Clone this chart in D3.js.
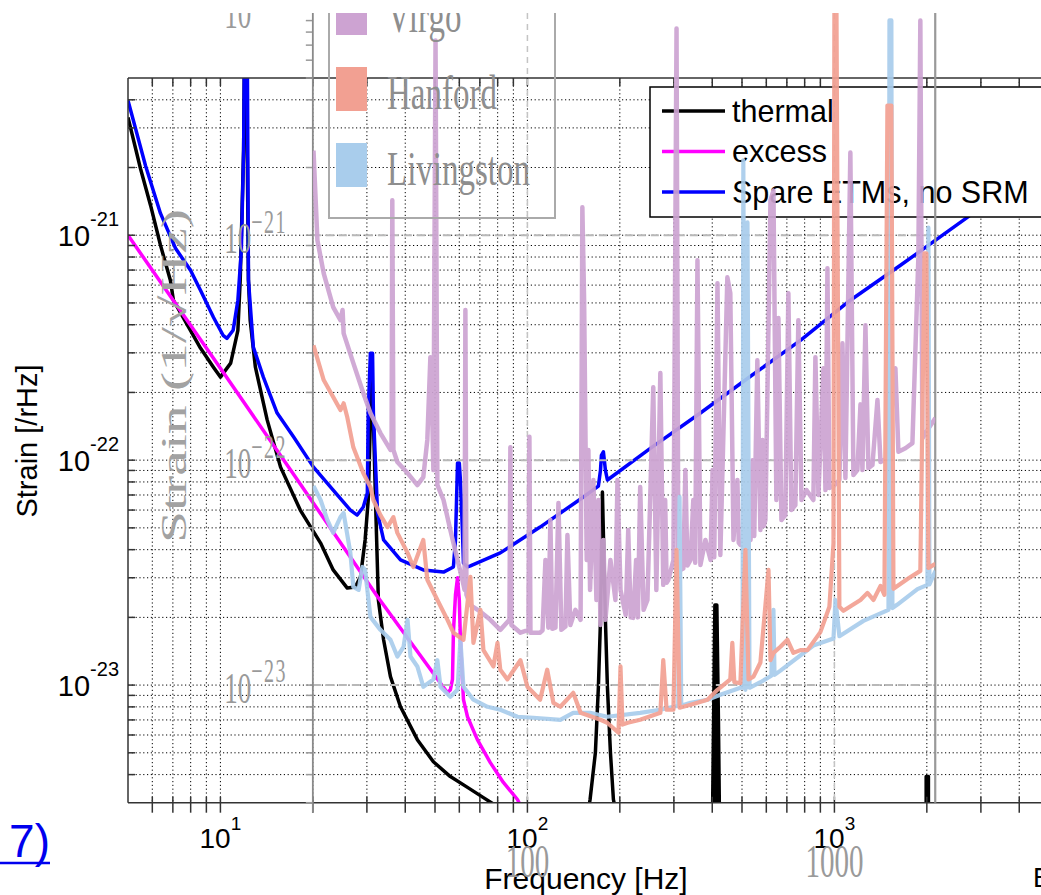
<!DOCTYPE html>
<html><head><meta charset="utf-8">
<script src="https://cdn.jsdelivr.net/npm/d3@7"></script>
<style>body{margin:0;background:#fff;} svg{display:block;}</style>
</head><body><svg id="c" width="1041" height="895"></svg>
<script>
// ---------- DATA (frequency in Hz, strain in units of 1e-23 /rHz) ----------
const UNIT = 1e-23;
const freqDomain = [5, 5000];
const strainDomain = [3e-24, 5e-21];
const freqMajor = [10, 100, 1000];
const freqMajorExp = ["1", "2", "3"];
const strainMajor = [1e-23, 1e-22, 1e-21];
const strainMajorExp = ["-23", "-22", "-21"];
const legendLabels = ["thermal", "excess", "Spare ETMs, no SRM"];
const legendColors = ["#000000", "#ff00ff", "#0000ff"];

const thermal = [[5.00,334],[5.49,198],[5.92,136],[6.38,90.2],[6.87,63.1],[7.03,51.4],[7.81,39.8],[8.61,31.5],[9.49,25.9],[10.0,23.4],[10.8,27.0],[11.4,37.8],[11.6,63.1],[11.9,238],[11.97,600],[12.15,600],[12.34,63.1],[12.5,41.9],[13.0,25.9],[14.2,15.1],[15.7,9.31],[18.2,6.00],[21.2,4.28],[23.3,3.25],[25.9,2.70],[27.5,2.73],[28.6,3.03],[29.6,4.42],[30.3,6.65],[30.8,15.1],[31.0,26.4],[31.5,15.1],[32.0,6.65],[32.7,2.39],[34.0,1.59],[35.8,1.09],[38.6,0.801],[43.8,0.572],[49.4,0.456],[56.1,0.392],[63.8,0.351],[71.9,0.316],[78.7,0.292],
 null,
 [158,0.28],[160,0.31],[166.5,0.501],[170.3,0.983],[173,1.95],[175.5,7.21],[179.5,1.95],[182.2,0.983],[186.4,0.501],[190.6,0.31],[193.5,0.28],
 null,
 [401,0.28],[404,0.70],[408,2.27],[414,2.27],[411,0.28],[414,2.27],[419,0.70],[422,0.28],
 null,
 [1990,0.28],[1990,0.392],[2024,0.392],[2024,0.28]];

const excess = [[5.00,100],[10.0,25.6],[18.2,7.83],[32.5,2.47],[54.9,0.924],[56.1,0.953],[57.0,1.06],[57.4,1.71],[58.3,2.52],[59.2,3.0],[60.0,2.39],[60.5,1.59],[61.9,0.861],[63.8,0.723],[68.7,0.572],[75.7,0.452],[83.5,0.369],[92.8,0.31],[96.3,0.28]];

const spare = [[5.00,397],[5.70,204],[6.38,125],[7.14,87.5],[7.99,69.8],[8.61,56.9],[9.49,43.2],[10.2,35.9],[10.5,34.8],[11.0,37.8],[11.4,51.4],[11.7,85.7],[11.9,238],[11.97,600],[12.24,600],[12.34,63.1],[12.8,31.8],[13.8,23.4],[15.3,16.2],[17.3,12.7],[20.1,9.31],[23.3,7.36],[26.5,6.00],[27.9,5.70],[29.2,6.19],[30.1,7.14],[30.3,16.2],[30.8,29.9],[31.3,29.9],[31.5,16.2],[32.5,5.82],[34.0,4.42],[38.6,3.60],[45.8,3.25],[53.3,3.18],[57.4,3.35],[58.3,4.42],[59.2,9.71],[60.0,9.71],[60.5,8.16],[61.4,4.89],[61.9,3.49],[63.8,3.35],[65.2,3.39],[81.6,3.87],[110,5.04],[149,6.72],[170.3,7.67],[173,9.03],[174.2,10.5],[176.8,10.9],[179.5,9.03],[182.2,8.16],[252,11.3],[366,16.2],[533,23.6],[775,34.1],[1127,51.4],[1641,73.5],[2710,120],[4980,220]];

// background figure (observing run sensitivities)
const bgFreqDomain = [20, 2130];
const bgFreqLabels = [100, 1000];
const bgStrainLabels = [1e-20, 1e-21, 1e-22, 1e-23];
const bgStrainExp = ["\u221220", "\u221221", "\u221222", "\u221223"];
const bgLegend = ["Virgo", "Hanford", "Livingston"];
const bgColors = ["#cda3d2", "#f2a092", "#a9cdec"];

const virgo = [[20.1,238],[20.7,94.9],[21.7,67.7],[23.3,47.9],[24.6,41.9],[25.0,46.5],[25.2,36.6],[27.1,27.0],[29.2,19.9],[30.8,16.2],[33.2,13.2],[35.8,11.1],[36.1,11.4],[36.3,143],[36.6,11.1],[37.7,9.81],[40.7,8.76],[43.8,7.75],[45.8,8.41],[47.2,12.3],[48.3,28.7],[49.0,15.1],[49.4,9.03],[50.2,734],[50.9,7.75],[53.3,6.65],[56.1,4.89],[59.2,3.60],[61.4,2.94],[62.4,2.65],[62.8,46.5],[63.3,2.52],[65.2,2.27],[70.3,2.12],[75.7,1.95],[81.6,1.76],[87.4,1.95],[88.0,11.4],[88.7,1.85],[94.9,1.71],[100.8,1.76],[101.5,12.7],[102.3,1.71],[110,1.71],[112,1.75],[114.5,3.60],[117,1.80],[118.8,5.42],[120.5,1.78],[123.4,1.80],[126.2,6.45],[129,1.76],[133,1.82],[135,4.65],[138,1.85],[143.3,2.16],[149,1.95],[151,133],[153,51.4],[156,3.60],[158,11.1],[160,2.65],[164,8.16],[167.8,2.39],[170.3,6.65],[173,1.85],[176.8,4.42],[179.5,1.95],[186.4,3.60],[193.5,2.39],[196.5,8.16],[201,2.65],[209,2.05],[213,4.89],[217,2.0],[221,1.99],[226,3.60],[229,2.0],[233,7.59],[239,2.16],[246,2.39],[257,21.1],[263,2.65],[271,24.4],[277,2.79],[281,6.65],[284,2.85],[288,2.94],[299,3.60],[306,830],[310,3.99],[315,3.25],[322,3.3],[327,9.03],[332,3.4],[340,3.60],[347,6.65],[352,3.5],[358,77.3],[366,3.42],[380,4.42],[395,3.60],[401,9.03],[406,3.7],[416,61.2],[425,3.79],[448,65.0],[458,55.2],[469,4.42],[483,8.16],[488,4.3],[494,4.20],[533,4.42],[541,10.0],[548,4.6],[561,27.8],[574,4.89],[583,12.3],[589,5.1],[596,5.42],[619,143],[633,158],[647,6.65],[657,42.8],[672,5.42],[692,5.70],[708,55.2],[724,6.00],[746,6.31],[763,41.9],[781,6.65],[811,7.36],[854,6.65],[867,28.7],[887,7.00],[921,25.6],[935,7.36],[949,71.3],[963,7.52],[993,7.67],[1038,8.16],[1062,33.1],[1086,8.33],[1127,233],[1153,8.59],[1188,9.03],[1216,17.7],[1234,9.03],[1262,39.8],[1290,9.22],[1330,9.51],[1381,18.5],[1413,9.81],[1488,10.2],[1580,25.6],[1616,10.9],[1703,11.3],[1795,11.9],[1877,79.7],[1905,901],[1934,12.5],[2009,13.6],[2133,15.4]];

const hanford = [[20.1,32.4],[21.7,22.7],[23.3,19.1],[24.6,16.7],[25.2,17.9],[25.9,15.5],[27.1,11.4],[29.2,8.76],[30.8,7.59],[31.5,6.65],[33.2,5.70],[35.0,5.04],[36.6,5.58],[37.7,4.75],[40.7,3.87],[42.5,3.35],[45.8,4.42],[47.2,2.94],[50.9,2.39],[54.9,1.95],[57.4,1.71],[61.9,1.59],[65.2,3.03],[66.7,1.54],[70.3,2.16],[71.9,1.43],[77.5,1.21],[79.9,1.54],[81.6,1.17],[86.1,1.06],[94.9,1.29],[100,0.983],[110,0.861],[116,1.17],[121.5,0.834],[128,0.801],[141,0.924],[149,0.753],[173,0.701],[182,0.680],[198,0.614],[201,1.21],[204,0.667],[212,0.680],[233,0.701],[271,0.753],[277,1.29],[284,0.777],[299,0.777],[306,3.99],[313,0.793],[340,0.818],[386,0.861],[416,0.953],[458,1.06],[465,1.54],[472,1.03],[494,1.02],[513,3.99],[525,1.06],[545,1.09],[574,1.26],[610,3.25],[619,1.29],[633,1.39],[667,1.48],[703,1.59],[735,1.39],[775,1.43],[817,1.43],[900,1.72],[963,2.23],[993,4.28],[1000,1200],[1015,1200],[1038,2.23],[1070,2.14],[1216,2.39],[1281,2.57],[1340,2.39],[1413,2.76],[1455,2.52],[1488,377],[1533,377],[1557,2.68],[1729,2.96],[1905,3.22],[1965,83.1],[1994,83.1],[2024,3.32],[2133,3.46]];

const livingston = [[20.1,7.67],[21.2,6.65],[22.3,5.42],[23.3,4.75],[24.6,5.58],[25.2,5.82],[26.5,3.87],[27.1,2.73],[28.2,2.65],[29.0,3.35],[29.6,3.25],[30.8,2.01],[33.2,1.76],[35.8,1.59],[37.7,1.34],[39.5,1.48],[40.7,1.95],[41.6,1.34],[43.8,1.21],[45.8,0.983],[49.4,1.06],[50.9,1.29],[52.1,0.983],[56.1,0.887],[59.2,0.953],[60.5,1.59],[61.9,0.983],[66.7,0.861],[74.1,0.801],[81.6,0.777],[92.8,0.723],[104.6,0.716],[128,0.701],[141,0.753],[160,0.753],[182,0.723],[233,0.753],[271,0.777],[299,0.801],[310,0.809],[313,6.86],[317,0.809],[340,0.834],[386,0.861],[425,0.905],[494,0.973],[502,0.973],[505,215],[513,0.953],[521,114],[529,0.973],[574,1.03],[623,1.10],[633,2.16],[638,1.11],[667,1.16],[854,1.50],[993,1.61],[1008,2.39],[1038,1.65],[1243,1.93],[1500,2.16],[1511,901],[1533,901],[1545,2.20],[1604,2.28],[1864,2.67],[2009,2.79],[2024,108],[2039,2.80],[2133,3.22]];

// ---------- CHART ----------
const svg = d3.select("#c");
const x = d3.scaleLog().domain(freqDomain).range([128, 1049]);
const y = d3.scaleLog().domain(strainDomain).range([802.7, 78]);
const X0 = x.range()[0], X1 = x.range()[1], Y0 = y.range()[0], Y1 = y.range()[1];

const defs = svg.append("defs");
defs.append("clipPath").attr("id","fc").append("rect").attr("x",X0).attr("y",Y1).attr("width",X1-X0).attr("height",Y0-Y1);
const bx0 = x(bgFreqDomain[0]), bx1 = x(bgFreqDomain[1]), bTop = 13;
defs.append("clipPath").attr("id","bc").append("rect").attr("x",bx0).attr("y",bTop).attr("width",bx1-bx0).attr("height",Y0-bTop);
defs.append("clipPath").attr("id","bt").append("rect").attr("x",0).attr("y",bTop).attr("width",1041).attr("height",895-bTop);

const inX = t=>t>freqDomain[0]&&t<freqDomain[1];
const inY = t=>t>strainDomain[0]*1.001&&t<strainDomain[1]*0.999;

// front grid (dotted)
const grid = svg.append("g").attr("clip-path","url(#fc)")
  .attr("stroke","#000").attr("stroke-width",1).attr("stroke-dasharray","1.2,2.6");
grid.selectAll(".gx").data(x.ticks().filter(inX)).join("line")
  .attr("x1",d=>x(d)).attr("x2",d=>x(d)).attr("y1",Y1).attr("y2",Y0);
grid.selectAll(".gy").data(y.ticks().filter(inY)).join("line")
  .attr("y1",d=>y(d)).attr("y2",d=>y(d)).attr("x1",X0).attr("x2",X1);

// front curves
const line = d3.line().defined(d=>d!==null).x(d=>x(d[0])).y(d=>y(d[1]*UNIT));
const fl = svg.append("g").attr("clip-path","url(#fc)").attr("fill","none").attr("stroke-width",3.5).attr("stroke-linejoin","round");
fl.append("path").datum(thermal).attr("d",line).attr("stroke",legendColors[0]);
fl.append("path").datum(excess).attr("d",line).attr("stroke",legendColors[1]);
fl.append("path").datum(spare).attr("d",line).attr("stroke",legendColors[2]);

// front frame and ticks
const fr = svg.append("g").attr("stroke","#333").attr("stroke-width",1.5);
fr.append("line").attr("x1",X0).attr("x2",X1).attr("y1",Y1).attr("y2",Y1);
fr.append("line").attr("x1",X0).attr("x2",X1).attr("y1",Y0).attr("y2",Y0);
fr.append("line").attr("x1",X0).attr("x2",X0).attr("y1",Y1).attr("y2",Y0);
const xt = x.ticks().filter(inX);
fr.selectAll(".tt").data(xt).join("line").attr("x1",d=>x(d)).attr("x2",d=>x(d)).attr("y1",Y1).attr("y2",Y1+8);
fr.selectAll(".tb").data(xt).join("line").attr("x1",d=>x(d)).attr("x2",d=>x(d)).attr("y1",Y0-6).attr("y2",Y0+10);
fr.selectAll(".tl").data(y.ticks().filter(inY)).join("line")
  .attr("y1",d=>y(d)).attr("y2",d=>y(d)).attr("x1",X0).attr("x2",X0+7);

// front tick labels
const sans = "'Liberation Sans', Arial, sans-serif";
freqMajor.forEach((f,i)=>{
  const t = svg.append("text").attr("x",x(f)).attr("y",848).attr("text-anchor","middle")
    .attr("font-family",sans).attr("font-size",28).attr("fill","#000");
  t.append("tspan").text("10");
  t.append("tspan").attr("dy",-18).attr("font-size",19).text(freqMajorExp[i]);
});
strainMajor.forEach((s,i)=>{
  const t = svg.append("text").attr("x",119).attr("y",y(s)+11).attr("text-anchor","end")
    .attr("font-family",sans).attr("font-size",29).attr("fill","#000");
  t.append("tspan").text("10");
  t.append("tspan").attr("dy",-20).attr("font-size",20).text(strainMajorExp[i]);
});
svg.append("text").attr("transform","translate(37,441) rotate(-90)").attr("text-anchor","middle")
  .attr("font-family",sans).attr("font-size",29).text("Strain [/rHz]");
svg.append("text").attr("x",586).attr("y",889).attr("text-anchor","middle")
  .attr("font-family",sans).attr("font-size",30).text("Frequency [Hz]");

// front legend
const lg = svg.append("g");
lg.append("rect").attr("x",650).attr("y",87).attr("width",395).attr("height",130).attr("fill","#fff").attr("stroke","#000").attr("stroke-width",1.5);
legendLabels.forEach((l,i)=>{
  const cy = 111 + i*40.5;
  lg.append("line").attr("x1",662).attr("x2",725).attr("y1",cy).attr("y2",cy).attr("stroke",legendColors[i]).attr("stroke-width",3.5);
  lg.append("text").attr("x",732).attr("y",cy+10.5).attr("font-family",sans).attr("font-size",30.5).text(l);
});

// stray page text
svg.append("text").attr("x",50).attr("y",857).attr("text-anchor","end").attr("font-family",sans).attr("font-size",46).attr("fill","#0000ee").text("7)");
svg.append("line").attr("x1",0).attr("x2",50).attr("y1",863).attr("y2",863).attr("stroke","#0000ee").attr("stroke-width",2.5);
svg.append("text").attr("x",1033).attr("y",887).attr("font-family",sans).attr("font-size",27).text("E");

// ---------- BACKGROUND FIGURE OVERLAY ----------
const serif = "'Liberation Serif', 'Times New Roman', serif";
const bg = svg.append("g").attr("clip-path","url(#bt)");
const bgy = [1e-20,1e-21,1e-22,1e-23];
bg.selectAll(".bh").data(bgy).join("line").attr("x1",bx0).attr("x2",bx1).attr("y1",d=>y(d)).attr("y2",d=>y(d))
  .attr("stroke","#b8b8b8").attr("stroke-width",2).attr("stroke-dasharray","8,5");
bg.selectAll(".bv").data(bgFreqLabels).join("line").attr("x1",d=>x(d)).attr("x2",d=>x(d)).attr("y1",bTop).attr("y2",Y0)
  .attr("stroke","#c4c4c4").attr("stroke-width",1.5).attr("stroke-dasharray","6,5");
const bgMinor = d3.scaleLog().domain([3e-24,1.2e-20]).ticks();
bg.selectAll(".bt").data(bgMinor).join("line").attr("x1",bx0-7).attr("x2",bx0).attr("y1",d=>y(d)).attr("y2",d=>y(d))
  .attr("stroke","#999").attr("stroke-width",1.5);
bg.append("line").attr("x1",bx0).attr("x2",bx0).attr("y1",bTop).attr("y2",Y0+10).attr("stroke","#8a8a8a").attr("stroke-width",1.8);
bg.append("line").attr("x1",bx1).attr("x2",bx1).attr("y1",bTop).attr("y2",Y0).attr("stroke","#999").attr("stroke-width",2.2);

const bl = bg.append("g").attr("clip-path","url(#bc)").attr("fill","none").attr("stroke-linejoin","round").attr("opacity",0.92);
bl.append("path").datum(virgo).attr("d",line).attr("stroke",bgColors[0]).attr("stroke-width",4.5);
bl.append("path").datum(livingston).attr("d",line).attr("stroke",bgColors[2]).attr("stroke-width",4.2);
bl.append("path").datum(hanford).attr("d",line).attr("stroke",bgColors[1]).attr("stroke-width",4.2);

bgStrainLabels.forEach((s,i)=>{
  const t = bg.append("text").attr("transform",`translate(287,${y(s)+18}) scale(1,1.65)`).attr("text-anchor","end")
    .attr("font-family",serif).attr("font-size",27).attr("fill","#9a9a9a");
  t.append("tspan").text("10");
  t.append("tspan").attr("dy",-12.5).attr("font-size",20).attr("letter-spacing",1.5).text(bgStrainExp[i]);
});
bgFreqLabels.forEach(f=>{
  bg.append("text").attr("transform",`translate(${x(f)},877) scale(1,1.6)`).attr("text-anchor","middle")
    .attr("font-family",serif).attr("font-size",29).attr("fill","#9a9a9a").text(String(f));
});
bg.append("text").attr("transform","translate(186,376) rotate(-90) scale(1.6,1)").attr("text-anchor","middle")
  .attr("font-family",serif).attr("font-size",36).attr("fill","#a2a2a2").text("Strain (1/\u221AHz)");

bg.append("rect").attr("x",329).attr("y",-5).attr("width",226).attr("height",223).attr("fill","none").attr("stroke","#aaa").attr("stroke-width",2);
bgLegend.forEach((l,i)=>{
  const top = -9 + i*76;
  bg.append("rect").attr("x",336).attr("y",top).attr("width",31).attr("height",44).attr("fill",bgColors[i]);
  bg.append("text").attr("transform",`translate(387,${32+i*76.5}) scale(1,1.5)`).attr("font-family",serif)
    .attr("font-size",33).attr("fill","#8e8e8e").text(l);
});
</script></body></html>
